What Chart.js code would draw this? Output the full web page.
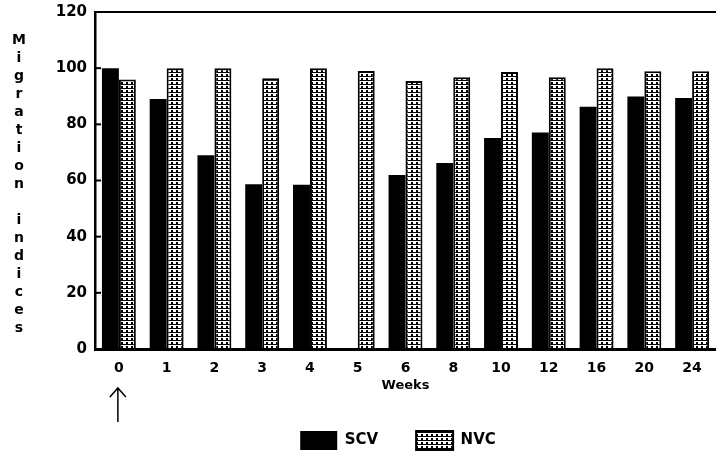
<!DOCTYPE html>
<html>
<head>
<meta charset="utf-8">
<script src="https://cdn.jsdelivr.net/npm/chart.js@4.4.1/dist/chart.umd.min.js"></script>
<style>
  html, body { margin: 0; padding: 0; background: #fff; overflow: hidden; }
  #wrap { width: 716px; height: 457px; }
</style>
</head>
<body>
<div id="wrap"><canvas id="myChart" width="716" height="457"></canvas></div>
<script>
// weeks after vaccination and the migration indices for both groups
const weeks = ['0', '1', '2', '3', '4', '5', '6', '8', '10', '12', '16', '20', '24'];
const scvValues = [100, 89, 69, 58.7, 58.5, null, 62, 66.2, 75.1, 77.1, 86.3, 89.9, 89.4];
const nvcValues = [96, 100, 100, 96.4, 100, 99, 95.4, 96.8, 98.6, 96.8, 100, 98.9, 98.9];
const yTicks = [0, 20, 40, 60, 80, 100, 120];
const yTitle = 'Migration indices';

const FONT = '"DejaVu Sans", sans-serif';

// dotted hatch fill used by the NVC bars
function makeHatch() {
  const c = document.createElement('canvas');
  c.width = 5; c.height = 4;
  const g = c.getContext('2d');
  g.fillStyle = '#fff';
  g.fillRect(0, 0, 5, 4);
  g.fillStyle = '#000';
  g.fillRect(0, 0, 5, 1);
  g.fillRect(1, 2, 2, 2);
  return g.createPattern(c, 'repeat');
}
const hatch = makeHatch();

// extra drawing: top frame line, inward y ticks, stacked y title, arrow under week 0
const extras = {
  id: 'extras',
  afterLayout(chart) {
    // legend in the original sits a bit right of the canvas centre
    if (chart.legend) {
      chart.legend.left += 40;
      chart.legend.right += 40;
    }
  },
  afterDraw(chart) {
    const ctx = chart.ctx;
    const a = chart.chartArea;
    const y = chart.scales.y;
    ctx.save();
    ctx.strokeStyle = '#000';
    ctx.lineWidth = 2;
    ctx.beginPath();
    ctx.moveTo(a.left, a.top);
    ctx.lineTo(a.right, a.top);
    ctx.stroke();

    yTicks.forEach(v => {
      const py = y.getPixelForValue(v);
      ctx.beginPath();
      ctx.moveTo(a.left, py);
      ctx.lineTo(a.left + 6, py);
      ctx.stroke();
    });

    ctx.fillStyle = '#000';
    ctx.font = 'bold 14px ' + FONT;
    ctx.textAlign = 'center';
    ctx.textBaseline = 'middle';
    for (let i = 0; i < yTitle.length; i++) {
      ctx.fillText(yTitle[i], 19, 40 + i * 18);
    }

    const ax = chart.scales.x.getPixelForValue(0) - 1;
    ctx.lineWidth = 1.5;
    ctx.beginPath();
    ctx.moveTo(ax, 422);
    ctx.lineTo(ax, 388);
    ctx.moveTo(ax - 8, 397);
    ctx.lineTo(ax, 388);
    ctx.lineTo(ax + 8, 397);
    ctx.stroke();
    ctx.restore();
  }
};

new Chart(document.getElementById('myChart'), {
  type: 'bar',
  data: {
    labels: weeks,
    datasets: [
      {
        label: 'SCV',
        data: scvValues,
        backgroundColor: '#000',
        borderColor: '#000',
        borderWidth: 0
      },
      {
        label: 'NVC',
        data: nvcValues,
        backgroundColor: hatch,
        borderColor: '#000',
        borderWidth: 2
      }
    ]
  },
  options: {
    responsive: false,
    animation: false,
    devicePixelRatio: 1,
    categoryPercentage: 0.71,
    barPercentage: 1,
    layout: { padding: { top: 12, right: 0, left: 0, bottom: -3 } },
    plugins: {
      legend: {
        display: true,
        position: 'bottom',
        labels: {
          boxWidth: 37,
          boxHeight: 19,
          padding: 38,
          color: '#000',
          font: { family: FONT, size: 15, weight: 'bold' }
        }
      },
      tooltip: { enabled: false }
    },
    scales: {
      x: {
        grid: { display: false },
        border: { display: true, color: '#000', width: 3 },
        ticks: { color: '#000', padding: 3, font: { family: FONT, size: 14, weight: 'bold' } },
        title: {
          display: true,
          text: 'Weeks',
          color: '#000',
          padding: { top: 2, bottom: 0 },
          font: { family: FONT, size: 13, weight: 'bold' }
        },
        afterFit(scale) { scale.height = 44; }
      },
      y: {
        min: 0,
        max: 120,
        grid: { display: false },
        border: { display: true, color: '#000', width: 2.5 },
        ticks: {
          stepSize: 20,
          color: '#000',
          padding: 0,
          font: { family: FONT, size: 15, weight: 'bold' }
        },
        afterFit(scale) {
          scale.width = 95;
          scale.paddingTop = 0;
          scale.paddingBottom = 0;
        }
      }
    }
  },
  plugins: [extras]
});
</script>
</body>
</html>
